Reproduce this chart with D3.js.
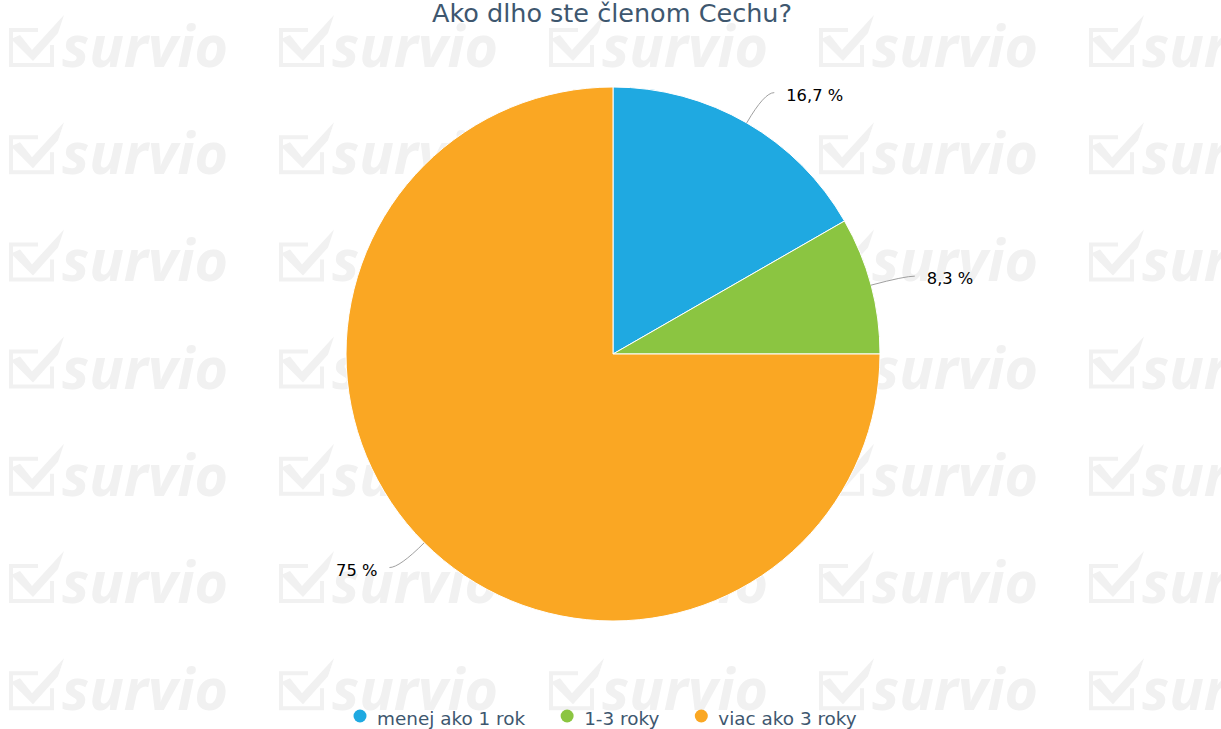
<!DOCTYPE html>
<html lang='sk'>
<head>
  <meta charset="utf-8" />
  <title>Ako dlho ste členom Cechu?</title>
  <script src="https://d3js.org/d3.v7.min.js"></script>
  <style>
    body { margin: 0; background: #fff; }
    svg { display: block; font-family: "DejaVu Sans", sans-serif; }
  </style>
</head>
<body>
  <script>
	var categories = ["menej ako 1 rok", "1-3 roky", "viac ako 3 roky"];
	var values = [16.7, 8.3, 75];
	var colors = ["#1fa9e1", "#8bc541", "#faa723"];
	var title = "Ako dlho ste členom Cechu?";

	var w = 1221;
	var h = 729;
	var cx = 613, cy = 354, r = 267;

	var svg = d3.select("body")
				.append("svg")
				.attr("width", w)
				.attr("height", h);

	// survio watermark tiles
	var cols = d3.range(5), rows = d3.range(7);
	var tiles = [];
	cols.forEach(function(i){
		rows.forEach(function(j){ tiles.push([8 + 270 * i, 15 + 107.2 * j]); });
	});
	var wm = svg.append("g").attr("fill", "#f1f1f1").attr("stroke", "#f1f1f1");
	var tile = wm.selectAll("g")
		.data(tiles)
		.enter()
		.append("g")
		.attr("transform", function(d){ return "translate(" + d[0] + "," + d[1] + ")"; });
	tile.append("path")
		.attr("fill", "none")
		.attr("stroke-width", 4)
		.attr("d", "M30,15 H3 V50 H44 V30");
	tile.append("path")
		.attr("stroke", "none")
		.attr("d", "M3,24 L12,20 L24,35 L56,0 L50,18 L25,46 Z");
	tile.append("text")
		.attr("x", 54)
		.attr("y", 52)
		.attr("stroke", "none")
		.attr("font-family", "'Open Sans', sans-serif")
		.attr("font-weight", "bold")
		.attr("font-style", "italic")
		.attr("font-size", 57)
		.attr("textLength", 166)
		.attr("lengthAdjust", "spacingAndGlyphs")
		.text("survio");

	// title
	svg.append("text")
		.attr("x", 612)
		.attr("y", 22)
		.attr("text-anchor", "middle")
		.attr("font-size", 25.5)
		.attr("fill", "#3e576f")
		.text(title);

	// pie
	var pie = d3.pie().sort(null).value(function(d){ return d; });
	var arc = d3.arc().innerRadius(0).outerRadius(r);
	var arcs = pie(values);

	var g = svg.append("g").attr("transform", "translate(" + cx + "," + cy + ")");
	g.selectAll("path")
		.data(arcs)
		.enter()
		.append("path")
		.attr("d", arc)
		.attr("fill", function(d, i){ return colors[i]; })
		.attr("stroke", "#fff")
		.attr("stroke-width", 1);

	// data labels with connectors
	function pt(a, rad){ return [rad * Math.sin(a), -rad * Math.cos(a)]; }
	arcs.forEach(function(d, i){
		var a = (d.startAngle + d.endAngle) / 2;
		var right = Math.sin(a) >= 0;
		var A = pt(a, r), B = pt(a, r + 35);
		var C = [B[0] + (right ? 10 : -10), B[1]];
		g.append("path")
			.attr("fill", "none")
			.attr("stroke", "#a0a0a0")
			.attr("stroke-width", 1)
			.attr("d", "M" + A + " Q" + B + " " + C);
		g.append("text")
			.attr("x", C[0] + (right ? 12 : -12))
			.attr("y", C[1] + 8)
			.attr("text-anchor", right ? "start" : "end")
			.attr("font-size", 16.3)
			.attr("fill", "#000")
			.text(String(values[i]).replace(".", ",") + " %");
	});

	// legend
	var lx = 360;
	categories.forEach(function(c, i){
		svg.append("circle")
			.attr("cx", lx)
			.attr("cy", 716)
			.attr("r", 6.5)
			.attr("fill", colors[i]);
		var t = svg.append("text")
			.attr("x", lx + 17)
			.attr("y", 725)
			.attr("font-size", 18.4)
			.attr("fill", "#3e576f")
			.text(c);
		lx = lx + 17 + t.node().getComputedTextLength() + 42;
	});
  </script>
</body>
</html>
